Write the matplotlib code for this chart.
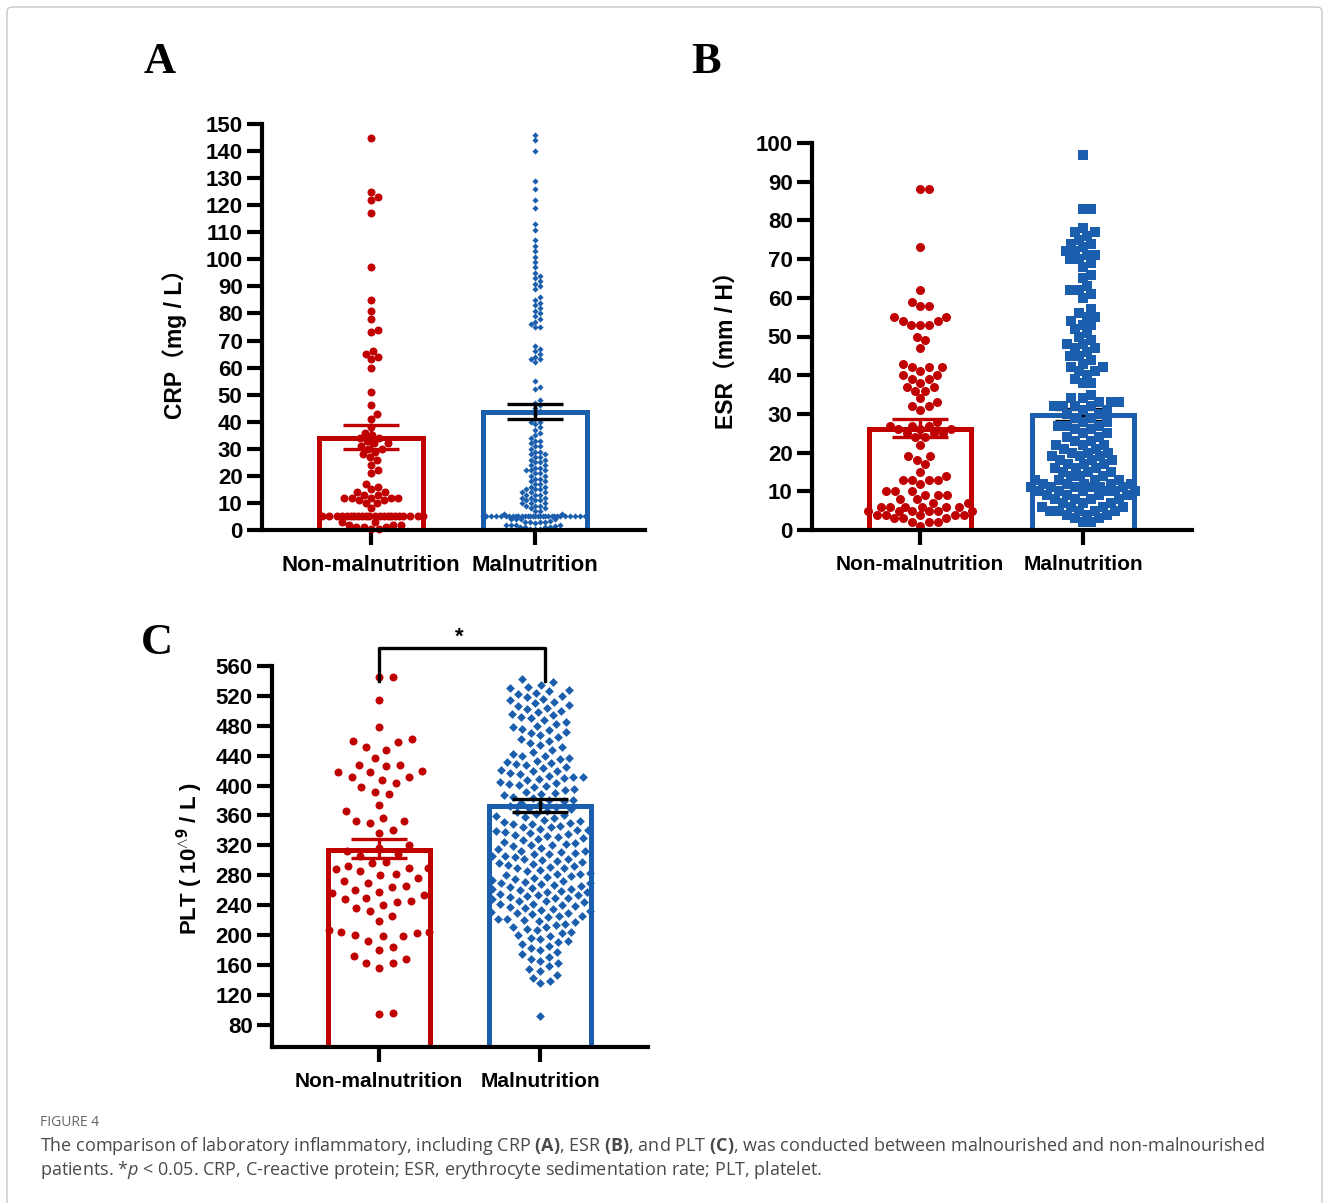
import numpy as np
import matplotlib.pyplot as plt
from matplotlib.patches import FancyBboxPatch

W, H = 1329, 1203
RED = '#C00000'
BLUE = '#1B5EAD'

groups = ['Non-malnutrition', 'Malnutrition']

# CRP (mg/L)
crp_non = [145, 125, 123, 122, 117, 97, 85, 81, 78, 74, 73,
           66, 65, 64, 63, 60, 51, 46, 43, 41,
           38, 36, 35, 34, 34, 33, 32, 32, 31, 30, 30, 29, 28, 27, 26,
           24, 22, 21, 17, 16, 15, 14, 14, 13, 13, 12,
           12, 12, 12, 12, 11, 11, 10, 10, 8,
           5, 5, 5, 5, 5, 5, 5, 5, 5, 5, 5, 5, 5, 5, 5, 5, 5, 5, 5, 5, 5, 5,
           3, 3, 2, 2, 2, 1, 1, 1, 0.5, 0.5]
crp_mal = [146, 144, 140, 129, 126, 122, 119, 113, 111, 107, 105, 103,
           101, 99, 97, 95, 94, 93, 92, 91, 90, 89,
           86, 85, 84, 83, 82, 81, 80, 79, 78, 77, 76, 75, 75,
           68, 67, 66, 65, 64, 63, 63, 62, 55, 53, 52,
           48, 47, 46, 45, 44, 43, 41, 40, 40, 39, 38, 37, 36, 35,
           34, 33, 33, 32, 31, 31, 30, 29, 29, 28, 28, 27, 27, 26, 26, 25, 25,
           24, 24, 23, 23, 22, 22, 22, 21, 21, 20, 20, 19, 19, 18, 18, 17, 17,
           16, 16, 15, 15, 15, 14, 14, 14, 13, 13, 13, 12, 12, 12, 11, 11, 11,
           10, 10, 10, 9, 9, 9, 8, 8, 7, 7, 6, 6,
           5, 5, 5, 5, 5, 5, 5, 5, 5, 5, 5, 5, 5, 5, 5, 5, 5, 5, 5, 5,
           5, 5, 5, 5, 5, 5, 5, 5, 5, 5,
           4, 4, 4, 4, 3.5, 3, 3, 3, 3, 2.5, 2, 2, 2, 2, 1.5, 1, 1, 1, 1,
           0.5, 0.5, 0.5]

# ESR (mm/H)
esr_non = [88, 88, 73, 62, 59, 58, 58, 55, 55, 54, 54, 53, 53, 53, 50, 49, 47,
           43, 42, 42, 42, 41, 40, 40, 39, 39, 38, 37, 37, 36, 36, 34, 33, 32, 32, 31,
           28, 27, 27, 27, 26, 26, 26, 25, 25, 25, 24, 24, 22, 19, 19, 18, 17,
           15, 14, 13, 13, 13, 13, 12, 10, 10, 10, 9, 9, 9, 8,
           8, 7, 7, 6, 6, 6, 6, 6, 6, 5, 5, 5, 5, 5, 5, 4, 4, 4, 4, 4,
           3, 3, 3, 2, 2, 2, 1]
esr_mal = [97, 83, 83,
           78, 77, 77, 76, 75, 74, 74, 73, 72, 72, 71, 71, 70, 70,
           69, 68, 66, 65, 63, 62, 62, 61, 60,
           57, 56, 55, 55, 54, 53, 53, 52, 51, 50,
           49, 48, 48, 47, 47, 46, 45, 45, 44, 43, 42, 42, 41, 41, 40,
           39, 38, 38,
           35, 34, 34, 33, 33, 33, 32, 32, 32, 32, 31, 31, 30, 30,
           29, 29, 28, 28, 27, 27, 27, 26, 26, 25, 25,
           24, 24, 23, 23, 22, 22, 22, 21, 21, 20, 20, 20,
           19, 19, 19, 18, 18, 18, 17, 17, 17, 16, 16, 16, 15, 15, 15, 14, 14, 14,
           13, 13, 13, 13, 12, 12, 12, 12, 12, 11, 11, 11, 11, 11, 11,
           10, 10, 10, 10, 10, 10, 9, 9, 9, 9,
           8, 8, 8, 8, 7, 7, 7, 6, 6, 6, 6, 5, 5, 5, 5, 5,
           4, 4, 4, 3, 3, 2, 2]

# PLT (10^9/L)
plt_non = [545, 545, 515, 478, 462, 460, 458, 452, 448, 437, 428, 428, 426,
           420, 418, 418, 412, 412, 408, 404, 398, 392, 388, 374, 366, 356,
           352, 352, 350, 340, 336, 320, 316, 312, 308, 305, 298, 296, 292,
           290, 290, 288, 286, 282, 280, 276, 272, 270, 266, 264, 260, 258,
           256, 254, 250, 248, 246, 244, 240, 236, 232, 226, 218, 206, 204,
           204, 202, 200, 198, 198, 192, 184, 180, 172, 168, 162, 162, 156,
           96, 94]
plt_mal = [542, 538, 535, 532, 530, 528, 526, 524, 522, 520,
           518, 516, 514, 512, 510, 508, 506, 504, 502, 500,
           498, 496, 494, 492, 490, 488, 485, 482, 480,
           478, 476, 474, 472, 470, 468, 465, 462, 460, 457, 454, 451,
           448, 445, 442, 440, 439, 437, 435, 433, 431, 430,
           429, 427, 425, 423, 421, 420, 419, 417, 415, 413, 412, 411, 410,
           409, 407, 405, 403, 402, 401, 400, 398, 396, 394, 392, 390,
           389, 387, 385, 383, 381, 380, 379, 377, 375, 373, 371, 370,
           368, 366, 364, 362, 360, 359, 358, 356, 354, 352, 351, 350,
           349, 348, 346, 345, 344, 342, 341, 340,
           339, 338, 336, 335, 334, 332, 331, 330,
           329, 327, 325, 323, 322, 321, 320, 319, 317, 315, 313, 312, 311, 310,
           309, 308, 306, 305, 304, 302, 301, 300,
           299, 298, 296, 295, 294, 292, 291, 290,
           289, 287, 285, 283, 282, 281, 280,
           279, 278, 276, 275, 274, 272, 271, 270,
           269, 268, 267, 265, 264, 263, 262, 261, 260,
           259, 258, 257, 255, 254, 253, 252, 251, 250,
           249, 248, 246, 245, 244, 242, 241, 240,
           239, 238, 236, 235, 234, 232, 231, 230,
           229, 228, 226, 225, 224, 222, 221, 220,
           219, 217, 215, 213, 211, 210, 208, 206, 204, 202, 200,
           198, 196, 194, 192, 190, 188, 185, 183, 180,
           177, 174, 171, 168, 165, 162, 158, 155, 152, 147, 143, 138, 135, 92]

# bar heights and mean +/- SEM
crp_mean, crp_lo, crp_hi = [34, 43.5], [29.8, 41], [38.7, 46.5]
esr_mean, esr_lo, esr_hi = [26, 29.7], [24, 28.1], [28.6, 31.3]
plt_mean, plt_lo, plt_hi = [314, 372], [303, 364], [328, 382]

plt.rcParams['mathtext.fontset'] = 'custom'
plt.rcParams['mathtext.rm'] = 'Open Sans'
plt.rcParams['mathtext.bf'] = 'Open Sans:bold'
plt.rcParams['mathtext.it'] = 'Open Sans:italic'

fig = plt.figure(figsize=(W / 100, H / 100), dpi=100)
SANS = ['Liberation Sans', 'Noto Sans CJK SC', 'DejaVu Sans']


def add_ax(left, top, right, bottom):
    return fig.add_axes([left / W, 1 - bottom / H, (right - left) / W, (bottom - top) / H])


def swarm(vals, ppu, d, max_half):
    y = np.asarray(vals, float) * ppu
    order = np.argsort(y, kind='stable')
    xs = np.zeros(len(y))
    cands = [0.0]
    for s in np.arange(0.5, max_half + 0.01, 0.5):
        cands += [s, -s]
    cands = np.array(cands)
    px, py = [], []
    for i in order:
        yi = y[i]
        if px:
            ax_, ay = np.array(px), np.array(py)
            near = np.abs(ay - yi) < d
            nx, ny = ax_[near], ay[near]
        else:
            nx = ny = np.array([])
        if len(nx):
            dist2 = ((cands[:, None] - nx[None, :]) ** 2 + (yi - ny[None, :]) ** 2).min(axis=1)
            ok = np.where(dist2 >= d * d)[0]
            xs[i] = cands[ok[0]] if len(ok) else cands[np.argmax(dist2)]
        px.append(xs[i])
        py.append(yi)
    return xs


def panel(box, data, means, lo, hi, ylim, yticks, styles, errc, errz, fs_cat):
    ax = add_ax(*box)
    xlim = (-0.665, 1.67)
    ax.set_xlim(xlim)
    ax.set_ylim(ylim)
    ppu_y = (box[3] - box[1]) / (ylim[1] - ylim[0])
    ppu_x = (box[2] - box[0]) / (xlim[1] - xlim[0])
    cols = [RED, BLUE]
    for i in range(2):
        ax.bar(i, means[i] - ylim[0], bottom=ylim[0], width=0.63, facecolor='white',
               edgecolor=cols[i], linewidth=3.6, zorder=1)
        mk, s, d, half = styles[i]
        off = swarm(data[i], ppu_y, d, half) / ppu_x
        ax.scatter(i + off, data[i], marker=mk, s=s, color=cols[i], linewidths=0, zorder=2,
                   clip_on=False)
        ax.errorbar(i, means[i], yerr=[[means[i] - lo[i]], [hi[i] - means[i]]], color=errc[i],
                    capsize=20, elinewidth=2.4, capthick=2.4, zorder=errz[i])
    for sp in ['top', 'right']:
        ax.spines[sp].set_visible(False)
    for sp in ['left', 'bottom']:
        ax.spines[sp].set_linewidth(3)
    ax.set_yticks(yticks)
    ax.set_xticks([0, 1])
    ax.set_xticklabels(groups)
    ax.tick_params(axis='y', length=11, width=3, pad=3, labelsize=16)
    ax.tick_params(axis='x', length=11, width=3, pad=7, labelsize=fs_cat)
    for t in ax.get_xticklabels() + ax.get_yticklabels():
        t.set_fontfamily(SANS)
        t.set_fontweight('bold')
    return ax


axA = panel((262, 124, 645, 530), [crp_non, crp_mal], crp_mean, crp_lo, crp_hi,
            (0, 150), range(0, 151, 10),
            [('o', 33, 7.5, 52), ('D', 10, 5, 52)], [RED, 'black'], [3, 3], 16)
axB = panel((812, 143, 1192, 530), [esr_non, esr_mal], esr_mean, esr_lo, esr_hi,
            (0, 100), range(0, 101, 10),
            [('o', 42, 9, 52), ('s', 62, 8.5, 52)], [RED, 'black'], [3, 1.5], 15)
axC = panel((272, 666, 648, 1047), [plt_non, plt_mal], plt_mean, plt_lo, plt_hi,
            (50, 560), range(80, 561, 40),
            [('o', 33, 14, 50), ('D', 20, 9.5, 50)], [RED, 'black'], [3, 3], 15)

# significance bracket
axC.plot([0, 0, 1.03, 1.03], [540, 584, 584, 540], color='black', lw=2.4, clip_on=False)
axC.text(0.5, 598, '*', ha='center', va='center', fontsize=16, fontweight='bold',
         fontfamily=SANS)


def ftext(x, y, s, **kw):
    return fig.text(x / W, 1 - y / H, s, **kw)


for lab, x, y in [('A', 160, 62), ('B', 706, 62), ('C', 157, 643)]:
    ftext(x, y, lab, ha='center', va='center', fontsize=32, fontweight='bold',
          fontfamily='Liberation Serif')

ftext(175, 338, 'CRP（mg / L）', rotation=90, ha='center', va='center', fontsize=16.5,
      fontweight='bold', fontfamily=SANS)
ftext(727, 345, 'ESR（mm / H）', rotation=90, ha='center', va='center', fontsize=16.5,
      fontweight='bold', fontfamily=SANS)
ftext(190, 858, r'PLT ( 10$^{\mathbf{\wedge 9}}$ / L )', rotation=90, ha='center', va='center',
      fontsize=16, fontweight='bold', fontfamily=SANS)

ftext(40, 1123, 'FIGURE 4', ha='left', va='center', fontsize=10, color='#666666',
      fontfamily='Open Sans')
ftext(40, 1146, r'The comparison of laboratory inflammatory, including CRP $\mathbf{(A)}$, ESR $\mathbf{(B)}$, '
      r'and PLT $\mathbf{(C)}$, was conducted between malnourished and non-malnourished',
      ha='left', va='center', fontsize=13, color='#4a4a4a', fontfamily='Open Sans')
ftext(40, 1170, r'patients. *$\mathit{p}$ < 0.05. CRP, C-reactive protein; ESR, erythrocyte sedimentation rate; PLT, platelet.',
      ha='left', va='center', fontsize=13, color='#4a4a4a', fontfamily='Open Sans')

fig.add_artist(FancyBboxPatch((7 / W, -0.05), 1315 / W, 1.05 - 7 / H,
                              boxstyle='round,pad=0,rounding_size=0.004',
                              transform=fig.transFigure, fill=False, ec='#c8c8c8', lw=1))

fig.savefig('out.png', dpi=100)
